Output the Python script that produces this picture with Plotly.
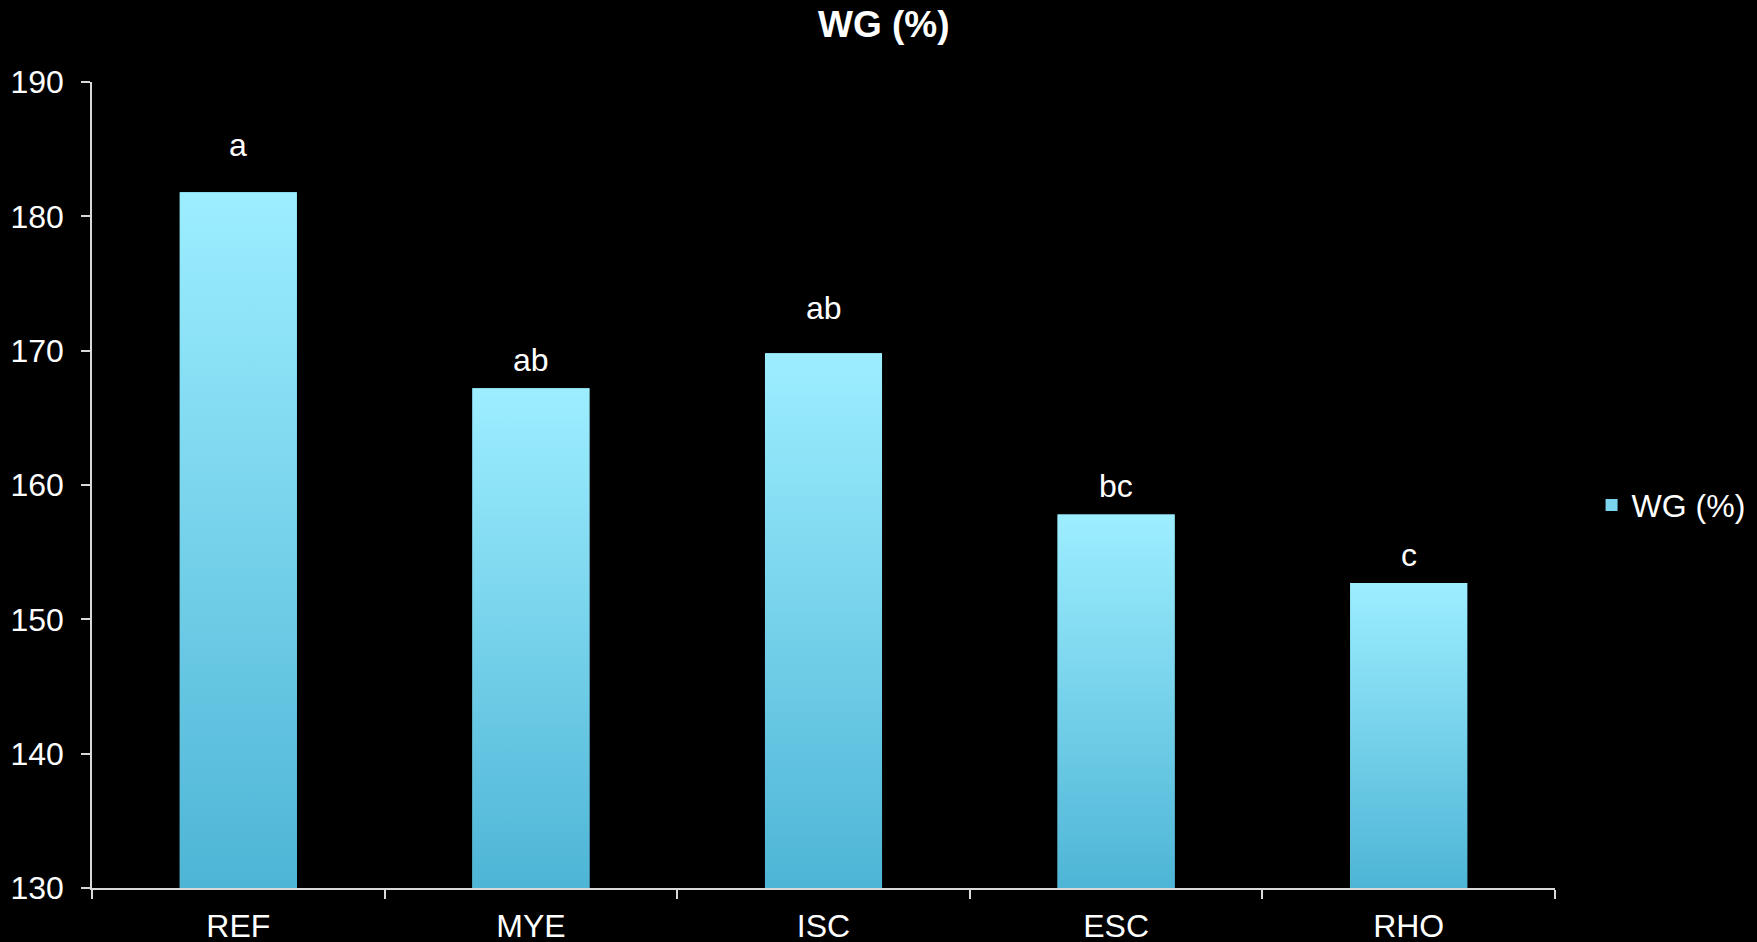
import plotly.graph_objects as go

# WG (%) by diet group
categories = ["REF", "MYE", "ISC", "ESC", "RHO"]
wg_values = [181.8, 167.2, 169.8, 157.8, 152.7]
sig_letters = ["a", "ab", "ab", "bc", "c"]
# height (in axis units) at which each significance letter sits
letter_heights = [185.3, 169.3, 173.2, 159.9, 154.8]

y_ticks = [130, 140, 150, 160, 170, 180, 190]

FONT = "Arial, Liberation Sans, sans-serif"
FS = 32
AXIS_COLOR = "#D9D9D9"
BAR_TOP = "#9DEEFF"
BAR_BOTTOM = "#4EB5D6"
BASE = 130
HALF_W = 0.2

xs = list(range(len(categories)))

fig = go.Figure()

# solid bars (also provide the legend entry)
fig.add_trace(go.Bar(
    x=xs, y=[v - BASE for v in wg_values], base=BASE, width=2 * HALF_W,
    marker=dict(color="#7AD4EE", line=dict(width=0)),
    name="WG (%)", showlegend=True,
))

# vertical gradient overlay on each bar
for x, v in zip(xs, wg_values):
    fig.add_trace(go.Scatter(
        x=[x - HALF_W, x + HALF_W, x + HALF_W, x - HALF_W, x - HALF_W],
        y=[BASE, BASE, v, v, BASE],
        mode="none", fill="toself",
        fillgradient=dict(type="vertical",
                          colorscale=[[0, BAR_BOTTOM], [1, BAR_TOP]]),
        showlegend=False, hoverinfo="skip",
    ))

for x, letter, h in zip(xs, sig_letters, letter_heights):
    fig.add_annotation(x=x, y=h, text=letter, showarrow=False,
                       xanchor="center", yanchor="middle",
                       font=dict(family=FONT, size=FS, color="white"))

fig.update_layout(
    width=1757, height=942,
    paper_bgcolor="black", plot_bgcolor="black",
    margin=dict(l=92, r=202, t=82, b=54, autoexpand=False),
    font=dict(family=FONT, size=FS, color="white"),
    title=dict(text="<b>WG (%)</b>", x=0.503, xref="container", xanchor="center",
               y=0.974, yref="container", yanchor="middle",
               font=dict(family=FONT, size=37, color="white")),
    legend=dict(x=1.025, y=0.475, xanchor="left", yanchor="middle",
                font=dict(family=FONT, size=FS, color="white"),
                bgcolor="rgba(0,0,0,0)", itemwidth=30),
    showlegend=True,
    bargap=0.6,
)

fig.update_xaxes(
    range=[-0.5, len(categories) - 0.5],
    tickmode="array", tickvals=xs, ticktext=categories,
    ticks="", showgrid=False, zeroline=False,
    showline=True, linecolor=AXIS_COLOR, linewidth=1.5,
    ticklabelstandoff=9,
    minor=dict(tickmode="linear", tick0=-0.5, dtick=1, ticks="outside",
               ticklen=9, tickwidth=1.5, tickcolor=AXIS_COLOR, showgrid=False),
    tickfont=dict(family=FONT, size=FS, color="white"),
)

fig.update_yaxes(
    range=[130, 190], tickmode="array", tickvals=y_ticks,
    ticks="outside", ticklen=9, tickwidth=1.5, tickcolor=AXIS_COLOR,
    showgrid=False, zeroline=False,
    showline=True, linecolor=AXIS_COLOR, linewidth=1.5,
    ticklabelstandoff=11,
    tickfont=dict(family=FONT, size=FS, color="white"),
)

fig.write_html("out.html")
